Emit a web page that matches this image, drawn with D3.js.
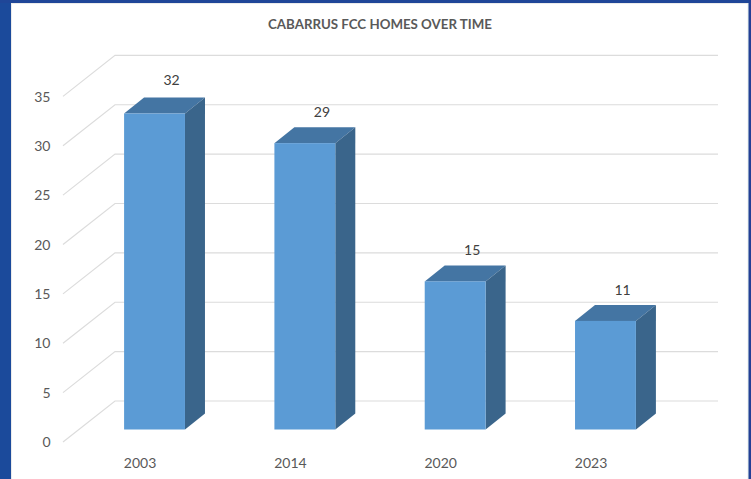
<!DOCTYPE html>
<html><head><meta charset="utf-8">
<script src="https://cdn.jsdelivr.net/npm/d3@7"></script>
<style>html,body{margin:0;padding:0;background:#fff;overflow:hidden}svg{display:block}text{font-family:Lato,"Open Sans",sans-serif}</style>
</head><body><div id="c"></div>
<script>
const categories=["2003","2014","2020","2023"];
const homes=[32,29,15,11];
const yTicks=[0,5,10,15,20,25,30,35];
const chartTitle="CABARRUS FCC HOMES OVER TIME";

const W=751,H=479;
const svg=d3.select("#c").append("svg").attr("width",W).attr("height",H);
svg.append("rect").attr("width",W).attr("height",H).attr("fill","#1b4a9b");
svg.append("rect").attr("x",0).attr("y",0).attr("width",W).attr("height",3).attr("fill","#1f4698");
svg.append("rect").attr("x",749).attr("y",0).attr("width",2).attr("height",H).attr("fill","#243f95");
svg.append("rect").attr("x",11.5).attr("y",3.5).attr("width",736.5).attr("height",H).attr("fill","#fff").attr("stroke","#ebebeb").attr("stroke-width",1);

const y=d3.scaleLinear().domain([0,35]).range([429.5,83.9]);
const x=d3.scaleBand().domain(categories).range([79,681]).paddingInner(0.595).paddingOuter(0.3);
const dx=20,dy=-16;           // bar depth
const wallDx=52,wallDy=-41;   // side wall depth
const floorFront=12.5;        // front-floor offset below the bar base

svg.append("g").attr("font-size",14).attr("fill","#595959").attr("text-anchor","end")
 .selectAll("text").data(yTicks).join("text")
 .attr("x",50.5).attr("y",d=>y(d)+floorFront+5.2).text(d=>d);
const grid=svg.append("g").attr("stroke","#dcdcdc").attr("stroke-width",1.2).attr("fill","none");
yTicks.forEach(t=>{
  const fy=y(t)+floorFront, by=fy+wallDy;
  grid.append("path").attr("d",`M63,${fy}L${63+wallDx},${by}H718`);
});

const bars=svg.append("g").selectAll("g").data(homes).join("g");
const c=(i)=>x(categories[i]);
bars.append("path").attr("fill","#4475a3").attr("d",(d,i)=>{const l=c(i),r=l+x.bandwidth(),t=y(d);
  return `M${l},${t}L${l+dx},${t+dy}H${r+dx}L${r},${t}Z`;});
bars.append("path").attr("fill","#3a658b").attr("d",(d,i)=>{const r=c(i)+x.bandwidth(),t=y(d),b=y(0);
  return `M${r},${t}L${r+dx},${t+dy}V${b+dy}L${r},${b}Z`;});
bars.append("rect").attr("fill","#5b9bd5").attr("x",(d,i)=>c(i)).attr("y",d=>y(d)).attr("width",x.bandwidth()).attr("height",d=>y(0)-y(d));
bars.append("text").attr("font-size",14).attr("fill","#404040").attr("text-anchor","middle")
 .attr("x",(d,i)=>c(i)+47.5).attr("y",(d,i)=>y(d)-(i===0?28.5:26)).text(d=>d);

svg.append("g").attr("font-size",14).attr("fill","#595959").attr("text-anchor","middle")
 .selectAll("text").data(categories).join("text")
 .attr("x",d=>x(d)+16).attr("y",468).text(d=>d);

svg.append("text").attr("x",380).attr("y",29).attr("text-anchor","middle").attr("font-size",13.3).attr("font-weight",700).attr("fill","#595959").text(chartTitle);
</script></body></html>
